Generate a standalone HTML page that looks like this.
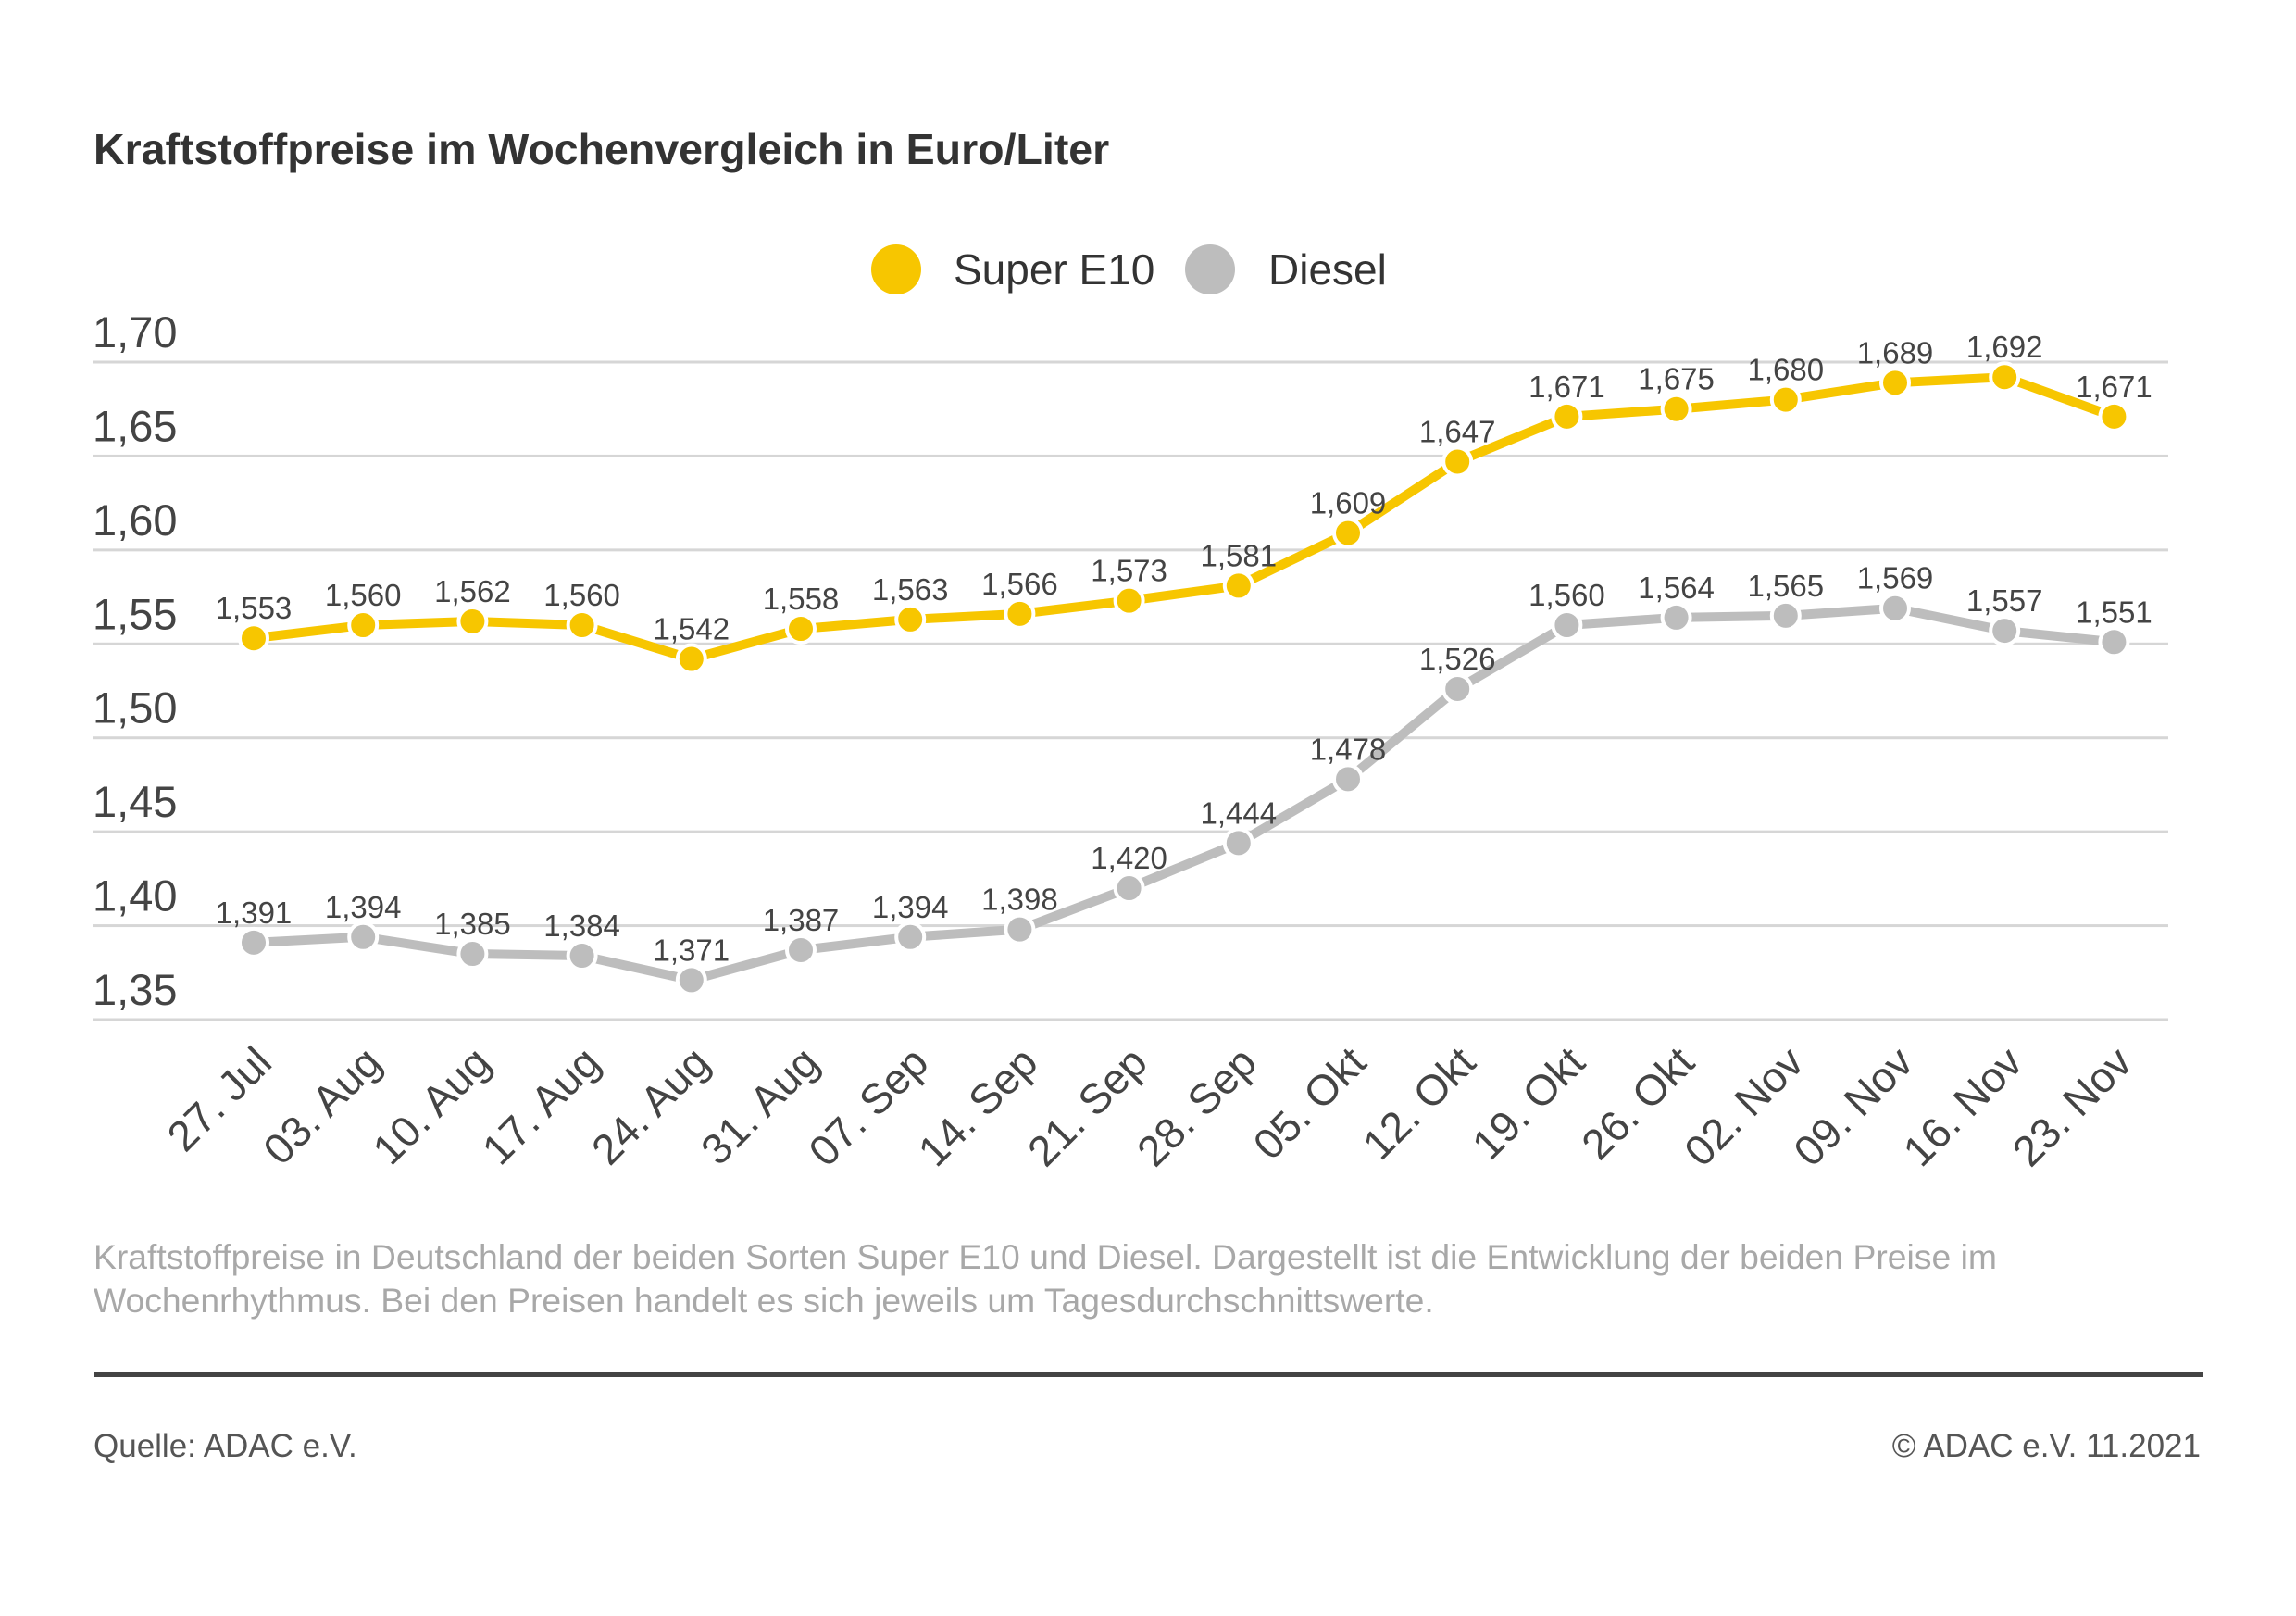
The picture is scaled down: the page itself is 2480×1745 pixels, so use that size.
<!DOCTYPE html>
<html><head><meta charset="utf-8">
<style>
html,body{margin:0;padding:0;background:#fff;}
body{width:2480px;height:1740px;overflow:hidden;font-family:"Liberation Sans",sans-serif;}
</style></head>
<body>
<svg id="s" width="2480" height="1740" viewBox="0 0 2480 1740" xmlns="http://www.w3.org/2000/svg" font-family="Liberation Sans, sans-serif">
<rect width="2480" height="1740" fill="#fff"/>
<text x="101" y="177" font-size="46.5" font-weight="bold" fill="#333">Kraftstoffpreise im Wochenvergleich in Euro/Liter</text>
<circle cx="968" cy="291" r="27" fill="#f7c600"/>
<text x="1030" y="307" font-size="46" fill="#333">Super E10</text>
<circle cx="1307" cy="291" r="27" fill="#bdbdbd"/>
<text x="1370" y="307" font-size="46" fill="#333">Diesel</text>
<g id="grid"></g>
<g id="series"></g>
<text x="101" y="1370" font-size="37.3" fill="#a8a8a8">Kraftstoffpreise in Deutschland der beiden Sorten Super E10 und Diesel. Dargestellt ist die Entwicklung der beiden Preise im</text>
<text x="101" y="1417" font-size="37.3" fill="#a8a8a8">Wochenrhythmus. Bei den Preisen handelt es sich jeweils um Tagesdurchschnittswerte.</text>
<rect x="101" y="1481" width="2279" height="6" fill="#444"/>
<text x="101" y="1573" font-size="35" fill="#555">Quelle: ADAC e.V.</text>
<text x="2377" y="1573" font-size="35" fill="#555" text-anchor="end">© ADAC e.V. 11.2021</text>
</svg>
<script>
var NS="http://www.w3.org/2000/svg";
function Y(v){return 391+(1.70-v)*2028.6;}
function X(i){return 274+i*118.2;}
function el(t,a,p,txt){var e=document.createElementNS(NS,t);for(var k in a)e.setAttribute(k,a[k]);if(txt!==undefined)e.textContent=txt;p.appendChild(e);return e;}
var g=document.getElementById('grid'),s=document.getElementById('series');
var ticks=["1,70","1,65","1,60","1,55","1,50","1,45","1,40","1,35"];
for(var i=0;i<8;i++){var v=1.70-i*0.05,y=Y(v);
el('rect',{x:100,y:y-1.5,width:2242,height:3,fill:'#d6d6d6'},g);
el('text',{x:100,y:y-16,'font-size':47,fill:'#444'},g,ticks[i]);}
var dates=["27. Jul","03. Aug","10. Aug","17. Aug","24. Aug","31. Aug","07. Sep","14. Sep","21. Sep","28. Sep","05. Okt","12. Okt","19. Okt","26. Okt","02. Nov","09. Nov","16. Nov","23. Nov"];
var e10=[1.553,1.560,1.562,1.560,1.542,1.558,1.563,1.566,1.573,1.581,1.609,1.647,1.671,1.675,1.680,1.689,1.692,1.671];
var die=[1.391,1.394,1.385,1.384,1.371,1.387,1.394,1.398,1.420,1.444,1.478,1.526,1.560,1.564,1.565,1.569,1.557,1.551];
function series(d,c){var p="";for(var i=0;i<d.length;i++)p+=(i?"L":"M")+X(i)+","+Y(d[i]);
el('path',{d:p,fill:'none',stroke:c,'stroke-width':10,'stroke-linejoin':'round'},s);
for(var i=0;i<d.length;i++){el('circle',{cx:X(i),cy:Y(d[i]),r:15,fill:c,stroke:'#fff','stroke-width':4},s);
el('text',{x:X(i),y:Y(d[i])-21,'font-size':33,fill:'#444','text-anchor':'middle'},s,d[i].toFixed(3).replace('.',','));}}
series(die,'#bdbdbd');series(e10,'#f7c600');
for(var i=0;i<dates.length;i++){var x=X(i)+22,y=1150;
el('text',{x:x,y:y,'font-size':46,fill:'#444','text-anchor':'end',transform:'rotate(-45 '+x+' '+y+')'},s,dates[i]);}
</script>
</body></html>
